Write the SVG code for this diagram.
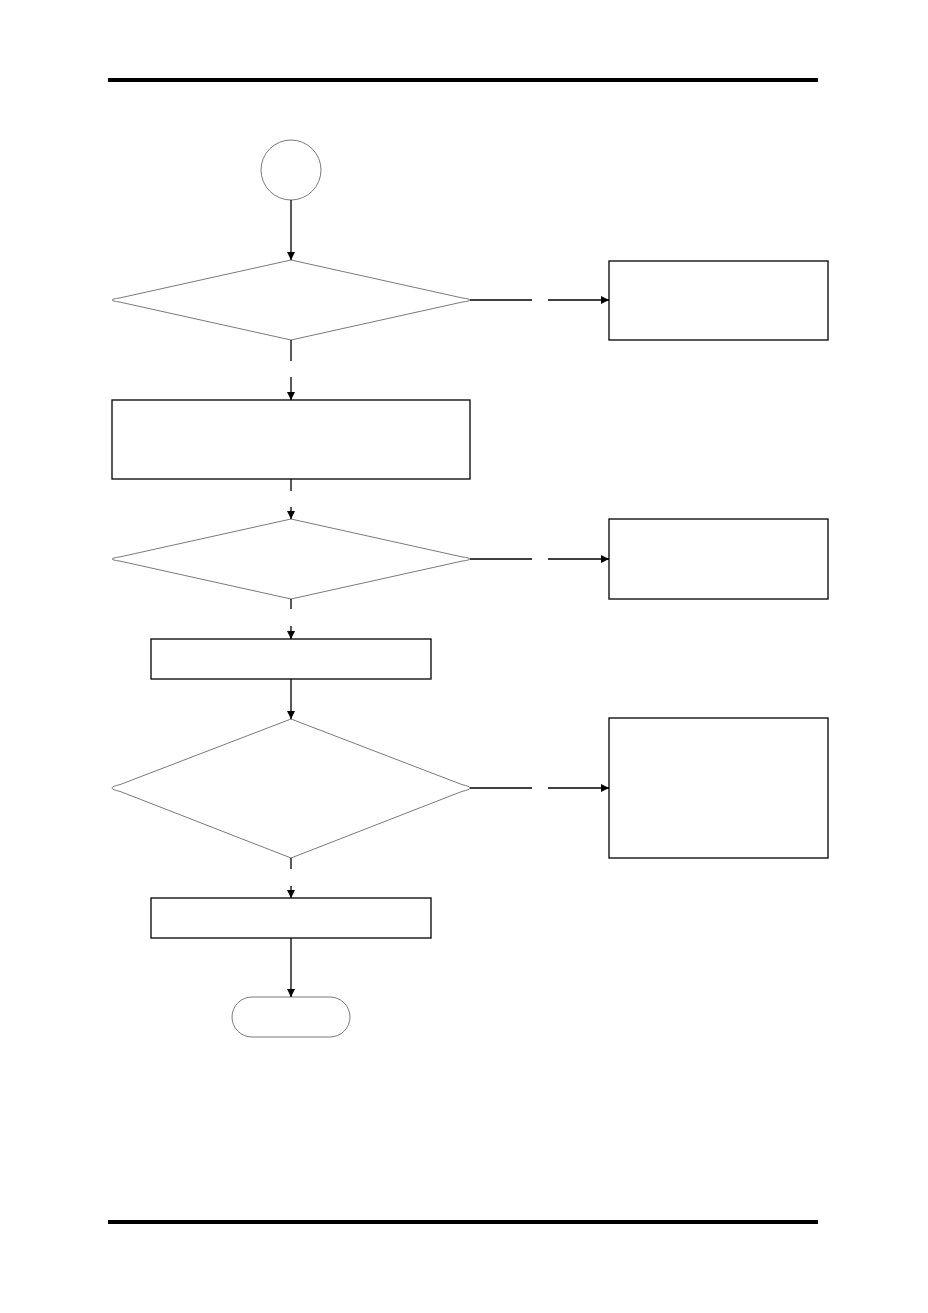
<svg xmlns="http://www.w3.org/2000/svg" width="928" height="1313" viewBox="0 0 928 1313">
<style>
.bar{fill:#000}
.soft{fill:#fff;stroke:#7a7a7a;stroke-width:1}
.box{fill:#fff;stroke:#000;stroke-width:1.3}
.ln{fill:none;stroke:#000;stroke-width:1.3}
</style>
<defs>
<marker id="ah" viewBox="0 0 8 8" refX="8" refY="4" markerWidth="8" markerHeight="8" markerUnits="userSpaceOnUse" orient="auto">
<path d="M0,0 L8,4 L0,8 Z" fill="#000"/>
</marker>
</defs>
<rect class="bar" x="108" y="78" width="710" height="4"/>
<rect class="bar" x="108" y="1220" width="710" height="4"/>
<g id="start"><circle class="soft" cx="291" cy="170" r="30"/></g>
<g id="decision1"><path class="soft" d="M291,260 L462,297.9 Q478,300 462,302.1 L291,340 L120,302.1 Q104,300 120,297.9 Z"/></g>
<g id="process1"><rect class="box" x="112" y="400" width="358" height="79"/></g>
<g id="decision2"><path class="soft" d="M291,519 L462,556.9 Q478,559 462,561.1 L291,599 L120,561.1 Q104,559 120,556.9 Z"/></g>
<g id="process2"><rect class="box" x="151" y="639" width="280" height="40"/></g>
<g id="decision3"><path class="soft" d="M291,719 L462,784.6 Q478,788 462,791.4 L291,858 L120,791.4 Q104,788 120,784.6 Z"/></g>
<g id="process3"><rect class="box" x="151" y="898" width="280" height="40"/></g>
<g id="end"><rect class="soft" x="232" y="997" width="118" height="40" rx="20" ry="20"/></g>
<g id="side1"><rect class="box" x="609" y="261" width="219" height="79"/></g>
<g id="side2"><rect class="box" x="609" y="519" width="219" height="80"/></g>
<g id="side3"><rect class="box" x="609" y="718" width="219" height="140"/></g>
<g id="connectors">
<line class="ln" x1="291" y1="200" x2="291" y2="260" marker-end="url(#ah)"/>
<line class="ln" x1="291" y1="340" x2="291" y2="361"/>
<line class="ln" x1="291" y1="377" x2="291" y2="400" marker-end="url(#ah)"/>
<line class="ln" x1="291" y1="479" x2="291" y2="491"/>
<line class="ln" x1="291" y1="507" x2="291" y2="519" marker-end="url(#ah)"/>
<line class="ln" x1="291" y1="599" x2="291" y2="609"/>
<line class="ln" x1="291" y1="626" x2="291" y2="639" marker-end="url(#ah)"/>
<line class="ln" x1="291" y1="679" x2="291" y2="719" marker-end="url(#ah)"/>
<line class="ln" x1="291" y1="858" x2="291" y2="869"/>
<line class="ln" x1="291" y1="886" x2="291" y2="898" marker-end="url(#ah)"/>
<line class="ln" x1="291" y1="938" x2="291" y2="997" marker-end="url(#ah)"/>
<line class="ln" x1="470" y1="300" x2="532" y2="300"/>
<line class="ln" x1="548" y1="300" x2="609" y2="300" marker-end="url(#ah)"/>
<line class="ln" x1="470" y1="559" x2="532" y2="559"/>
<line class="ln" x1="548" y1="559" x2="609" y2="559" marker-end="url(#ah)"/>
<line class="ln" x1="470" y1="788" x2="532" y2="788"/>
<line class="ln" x1="548" y1="788" x2="609" y2="788" marker-end="url(#ah)"/>
</g>
</svg>
